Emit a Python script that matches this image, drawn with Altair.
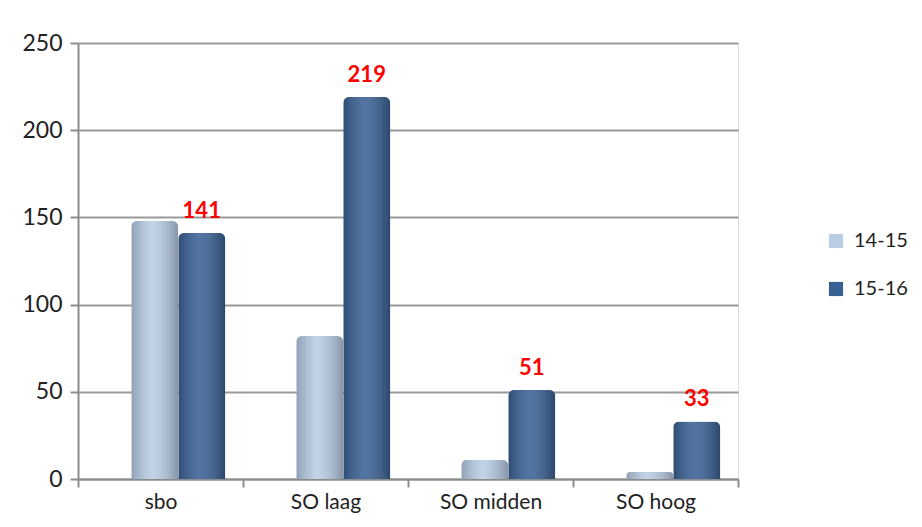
import altair as alt
import pandas as pd

categories = ["sbo", "SO laag", "SO midden", "SO hoog"]
series = ["14-15", "15-16"]
values_1415 = [148, 82, 11, 4]
values_1516 = [141, 219, 51, 33]
y_ticks = [0, 50, 100, 150, 200, 250]

rows = []
for c, a, b in zip(categories, values_1415, values_1516):
    rows.append({"cat": c, "series": "14-15", "value": a})
    rows.append({"cat": c, "series": "15-16", "value": b})
df = pd.DataFrame(rows)

FONT = "Lato"

x_enc = alt.X("cat:N", sort=categories, title=None,
              scale=alt.Scale(paddingInner=0, paddingOuter=0),
              axis=alt.Axis(labelAngle=0, labelFontSize=21, labelColor="#222222",
                            labelFont=FONT, labelPadding=4, tickBand="extent",
                            tickSize=8, tickColor="#8c8c8c", tickWidth=2,
                            domainColor="#8c8c8c", domainWidth=2, grid=False))
xoff = alt.XOffset("series:N", sort=series,
                   scale=alt.Scale(paddingInner=0, paddingOuter=0.755, align=0.75))
y_enc = alt.Y("value:Q", title=None,
              scale=alt.Scale(domain=[0, 250], nice=False),
              axis=alt.Axis(values=y_ticks, labelFontSize=23, labelColor="#222222",
                            labelFont=FONT, labelPadding=8, tickSize=8,
                            tickColor="#8c8c8c", tickWidth=2,
                            domainColor="#8c8c8c", domainWidth=2,
                            gridColor="#9a9a9a", gridWidth=2))

bars = alt.Chart(df).mark_bar(cornerRadiusTopLeft=6, cornerRadiusTopRight=6).encode(
    x=x_enc, xOffset=xoff, y=y_enc,
    color=alt.Color("series:N", sort=series, title=None,
                    scale=alt.Scale(domain=series, range=["#B9CDE5", "#3A6194"]),
                    legend=alt.Legend(orient="none", legendX=748, legendY=188,
                                      symbolType="square", symbolSize=200,
                                      labelFontSize=20, labelFont=FONT,
                                      labelColor="#222222", rowPadding=28,
                                      labelOffset=8, symbolStrokeWidth=0))
)

shade = alt.Chart(df).mark_bar(
    cornerRadiusTopLeft=6, cornerRadiusTopRight=6,
    fill=alt.Gradient(gradient="linear", x1=0, x2=1, y1=0, y2=0,
                      stops=[alt.GradientStop(offset=0, color="rgba(0,0,0,0.22)"),
                             alt.GradientStop(offset=0.45, color="rgba(255,255,255,0.12)"),
                             alt.GradientStop(offset=1, color="rgba(0,0,0,0.28)")])
).encode(x=alt.X("cat:N", sort=categories), xOffset=xoff, y=alt.Y("value:Q"))

labels = alt.Chart(df).transform_filter(alt.datum.series == "15-16").mark_text(
    dy=-10, fontSize=22, fontWeight="bold", color="#FF0000", font=FONT, baseline="bottom"
).encode(x=alt.X("cat:N", sort=categories), xOffset=xoff, y=alt.Y("value:Q"),
         text=alt.Text("value:Q"))

chart = alt.layer(bars, shade, labels).properties(
    width=660, height=436,
    padding={"left": 70, "top": 35, "right": 176, "bottom": 40},
    autosize=alt.AutoSizeParams(type="none"),
).configure_view(stroke=None).configure(background="white")

chart.save("out.html", embed_options={"renderer": "svg", "actions": False})
